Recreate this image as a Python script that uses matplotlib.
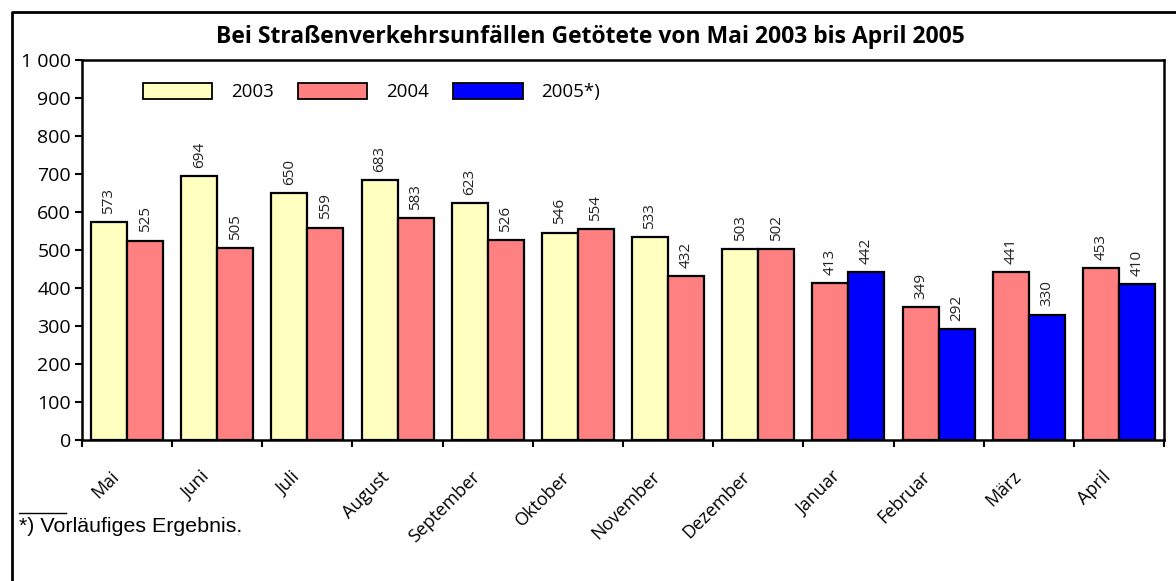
import numpy as np
import matplotlib
matplotlib.use("Agg")
import matplotlib.pyplot as plt
from matplotlib.lines import Line2D
from matplotlib.patches import Patch
from matplotlib.ticker import FuncFormatter
from matplotlib.transforms import ScaledTranslation

months = ["Mai", "Juni", "Juli", "August", "September", "Oktober", "November",
          "Dezember", "Januar", "Februar", "März", "April"]
# Mai-Dezember 2003
v2003 = [573, 694, 650, 683, 623, 546, 533, 503]
# Mai-Dezember 2004, then Januar-April 2004 (in chart order)
v2004 = [525, 505, 559, 583, 526, 554, 432, 502, 413, 349, 441, 453]
# Januar-April 2005
v2005 = [442, 292, 330, 410]

c2003 = "#FFFFC0"
c2004 = "#FF8080"
c2005 = "#0000FF"

plt.rcParams['font.family'] = ['Open Sans', 'DejaVu Sans']

W, H = 1176, 581
fig = plt.figure(figsize=(W / 100, H / 100), dpi=100)
ax = fig.add_axes([82 / W, 1 - 440 / H, (1164 - 82) / W, (440 - 60) / H])

n8 = len(v2003)
x = np.arange(len(months))
left_vals = v2003 + v2004[n8:]
right_vals = v2004[:n8] + v2005
left_cols = [c2003] * n8 + [c2004] * (len(months) - n8)
right_cols = [c2004] * n8 + [c2005] * (len(months) - n8)

bw = 0.4
b1 = ax.bar(x - bw / 2, left_vals, bw, color=left_cols, edgecolor="black", linewidth=1.6)
b2 = ax.bar(x + bw / 2, right_vals, bw, color=right_cols, edgecolor="black", linewidth=1.6)

for bars, vals in ((b1, left_vals), (b2, right_vals)):
    for r, v in zip(bars, vals):
        ax.annotate(str(v), (r.get_x() + r.get_width() / 2, v), xytext=(0, 6),
                    textcoords="offset points", rotation=90, ha="center", va="bottom",
                    fontsize=11, color="#222222")

ax.set_xlim(-0.5, len(months) - 0.5)
ax.set_ylim(0, 1000)
ax.set_yticks(np.arange(0, 1001, 100))
ax.yaxis.set_major_formatter(FuncFormatter(lambda v, p: f"{int(v):,}".replace(",", " ")))
ax.tick_params(axis="y", direction="out", length=5, width=1.5, labelsize=14, pad=3)

ax.set_xticks(np.arange(len(months) + 1) - 0.5)
ax.set_xticklabels([])
ax.tick_params(axis="x", which="major", direction="out", length=5, width=1.5)
ax.set_xticks(x, minor=True)
ax.set_xticklabels(months, minor=True, rotation=45, ha="right", va="top",
                   rotation_mode="anchor", fontsize=13)
ax.tick_params(axis="x", which="minor", length=0, pad=20)
shift = ScaledTranslation(-17 / 100, 0, fig.dpi_scale_trans)
for lbl in ax.xaxis.get_minorticklabels():
    lbl.set_transform(lbl.get_transform() + shift)

for s in ax.spines.values():
    s.set_linewidth(1.8)

handles = [Patch(facecolor=c2003, edgecolor="black", linewidth=1.3),
           Patch(facecolor=c2004, edgecolor="black", linewidth=1.3),
           Patch(facecolor=c2005, edgecolor="black", linewidth=1.3)]
ax.legend(handles, ["2003", "2004", "2005*)"], ncol=3, frameon=False,
          loc="center left", bbox_to_anchor=(0.056, 0.916), fontsize=13.5,
          borderpad=0, borderaxespad=0,
          handlelength=3.7, handleheight=0.95, handletextpad=1.0, columnspacing=1.3)

fig.text(590 / W, 1 - 37 / H, "Bei Straßenverkehrsunfällen Getötete von Mai 2003 bis April 2005",
         ha="center", va="center", fontsize=16.5, fontweight="bold")

# outer frame (left and top edges)
fig.add_artist(Line2D([11.5 / W, 11.5 / W, 1], [0, 1 - 11.5 / H, 1 - 11.5 / H],
                      transform=fig.transFigure, color="black", linewidth=2))

# footnote
fig.add_artist(Line2D([19 / W, 66 / W], [1 - 513 / H, 1 - 513 / H],
                      transform=fig.transFigure, color="black", linewidth=1))
fig.text(19 / W, 1 - 527 / H, "*) Vorläufiges Ergebnis.", ha="left", va="center",
         fontsize=15.4, family=["Liberation Sans", "DejaVu Sans"])

fig.savefig("out.png", dpi=100)
